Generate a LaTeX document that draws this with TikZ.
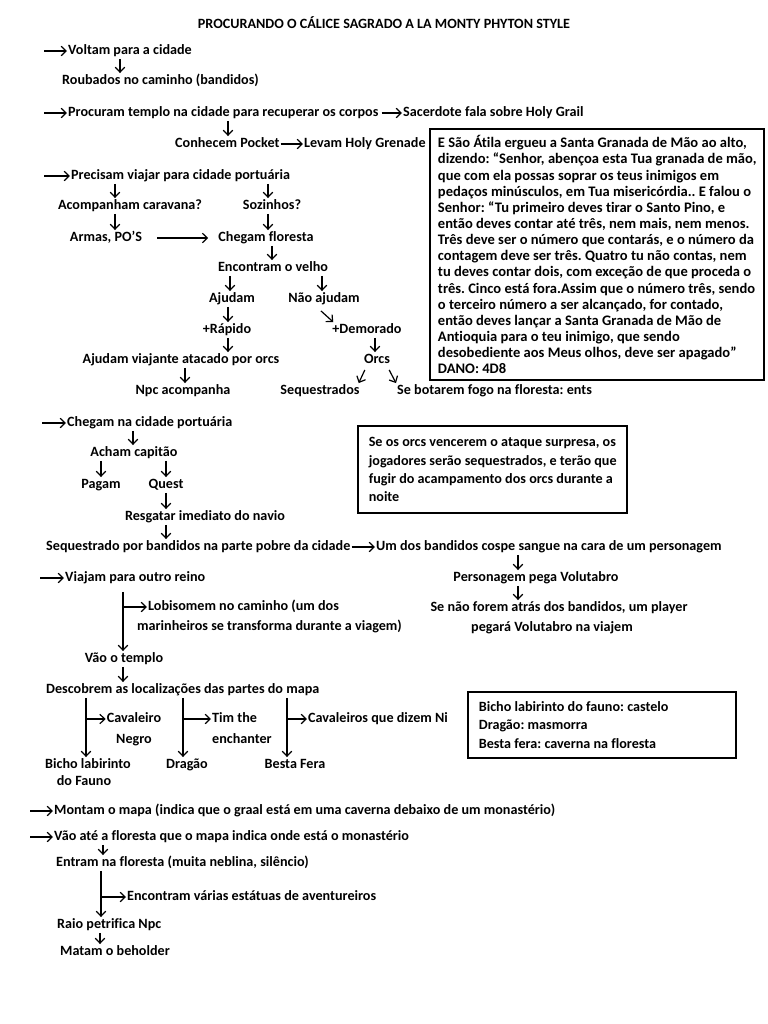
\documentclass[tikz,border=0pt]{standalone}
\usepackage{fontspec}
\setmainfont{Carlito}[Ligatures=NoCommon]
\frenchspacing
\usetikzlibrary{arrows.meta,calc}
\newcommand\tfont{\fontsize{14.2}{16}\selectfont\bfseries\frenchspacing}
\newcommand\bxfont{\fontsize{14.6}{16.2}\selectfont\bfseries\frenchspacing}
\newcommand\bxfontb{\fontsize{14.2}{18.4}\selectfont\bfseries\frenchspacing}
\tikzset{
  t/.style={font=\tfont, inner sep=1bp, text height=10bp, text depth=3.5bp},
  arr/.style={-{Straight Barb[length=5bp,width=9.5bp,line width=1.2bp]}, line width=1.2bp},
  textbox/.style={draw, line width=2.4bp, align=left, inner xsep=4bp, inner ysep=0bp},
}
\begin{document}
\begin{tikzpicture}[x=1bp,y=-1bp]
\fill[white] (0,0) rectangle (768,1024);
\useasboundingbox (0,0) rectangle (768,1024);

\node[t] (title) at (384,25) {PROCURANDO O CÁLICE SAGRADO A LA MONTY PHYTON STYLE};

% --- block 1
\coordinate (s1) at (44,51);
\node[t,anchor=west] (voltam) at (67,51) {Voltam para a cidade};
\node[t,anchor=west] (roubados) at (61,81) {Roubados no caminho (bandidos)};
\draw[arr] (s1) -- (voltam.west);
\draw[arr] (voltam.south -| 120,0) -- (roubados.north -| 120,0);

\coordinate (s2) at (44,113);
\node[t,anchor=west] (procuram) at (67,113) {Procuram templo na cidade para recuperar os corpos};
\node[t,anchor=west] (sacer) at (402,113) {Sacerdote fala sobre Holy Grail};
\node[t,anchor=west] (conhecem) at (174,144) {Conhecem Pocket};
\node[t,anchor=west] (levam) at (303,144) {Levam Holy Grenade};
\draw[arr] (s2) -- (procuram.west);
\draw[arr,shorten <=2bp] (procuram.east) -- (sacer.west);
\draw[arr] (procuram.south -| 228,0) -- (conhecem.north -| 228,0);
\draw[arr] (conhecem.east) -- (levam.west);

\node[textbox,font=\bxfont,anchor=north west,minimum width=334bp,minimum height=251bp] (box1) at (429,128)
{E São Átila ergueu a Santa Granada de Mão ao alto,\\
dizendo: “Senhor, abençoa esta Tua granada de mão,\\
que com ela possas soprar os teus inimigos em\\
pedaços minúsculos, em Tua misericórdia.. E falou o\\
Senhor: “Tu primeiro deves tirar o Santo Pino, e\\
então deves contar até três, nem mais, nem menos.\\
Três deve ser o número que contarás, e o número da\\
contagem deve ser três. Quatro tu não contas, nem\\
tu deves contar dois, com exceção de que proceda o\\
três. Cinco está fora.Assim que o número três, sendo\\
o terceiro número a ser alcançado, for contado,\\
então deves lançar a Santa Granada de Mão de\\
Antioquia para o teu inimigo, que sendo\\
desobediente aos Meus olhos, deve ser apagado”\\
DANO: 4D8};

% --- block 2
\coordinate (s3) at (44,176);
\node[t,anchor=west] (precisam) at (70,176) {Precisam viajar para cidade portuária};
\node[t] (acomp) at (130,206) {Acompanham caravana?};
\node[t] (sozinhos) at (272,206) {Sozinhos?};
\node[t] (armas) at (106,238) {Armas, PO’S};
\node[t] (chegamf) at (266,238) {Chegam floresta};
\node[t] (encontram) at (273,268) {Encontram o velho};
\node[t] (ajudam) at (232,299) {Ajudam};
\node[t] (naoaj) at (324,299) {Não ajudam};
\node[t] (rapido) at (227,330) {+Rápido};
\node[t] (demorado) at (367,330) {+Demorado};
\node[t] (ajviaj) at (181,360) {Ajudam viajante atacado por orcs};
\node[t] (orcs) at (377,360) {Orcs};
\node[t] (npc) at (183,391) {Npc acompanha};
\node[t] (seq) at (320,391) {Sequestrados};
\node[t,anchor=west] (ents) at (396,391) {Se botarem fogo na floresta: ents};
\draw[arr] (s3) -- (precisam.west);
\draw[arr] (precisam.south -| 115,0) -- (acomp.north -| 115,0);
\draw[arr] (precisam.south -| 268,0) -- (sozinhos.north -| 268,0);
\draw[arr] (acomp.south -| 115,0) -- (armas.north -| 115,0);
\draw[arr,shorten <=14bp,shorten >=9bp] (armas.east) -- (chegamf.west);
\draw[arr] (sozinhos.south -| 268,0) -- (chegamf.north -| 268,0);
\draw[arr] (chegamf.south -| 272,0) -- (encontram.north -| 272,0);
\draw[arr] (encontram.south -| 230,0) -- (ajudam.north -| 230,0);
\draw[arr] (encontram.south -| 322,0) -- (naoaj.north -| 322,0);
\draw[arr] (ajudam.south -| 228,0) -- (rapido.north -| 228,0);
\draw[arr] ($(naoaj.south -| 321,0)+(0,4)$) -- ($(demorado.north west)+(2,0)$);
\draw[arr] (rapido.south -| 228,0) -- (ajviaj.north -| 228,0);
\draw[arr] (demorado.south -| 375,0) -- (orcs.north -| 375,0);
\draw[arr] (ajviaj.south -| 185,0) -- (npc.north -| 185,0);
\draw[arr] ($(orcs.south west)+(2,2)$) -- ($(seq.north east)+(-2,0)$);
\draw[arr] ($(orcs.south east)+(-2,2)$) -- ($(ents.north west)+(0,0)$);

% --- block 3
\coordinate (s4) at (42,423);
\node[t,anchor=west] (chegamc) at (66,423) {Chegam na cidade portuária};
\node[t] (acham) at (134,453) {Acham capitão};
\node[t] (pagam) at (101,485) {Pagam};
\node[t] (quest) at (166,485) {Quest};
\node[t] (resgatar) at (205,517) {Resgatar imediato do navio};
\node[t,anchor=west] (sequestrado) at (45,547) {Sequestrado por bandidos na parte pobre da cidade};
\node[t,anchor=west] (umdos) at (375,547) {Um dos bandidos cospe sangue na cara de um personagem};
\node[t] (personagem) at (536,578) {Personagem pega Volutabro};
\node[t] (senao) at (559,608) {Se não forem atrás dos bandidos, um player};
\node[t] (pegara) at (552,628) {pegará Volutabro na viajem};
\draw[arr] (s4) -- (chegamc.west);
\draw[arr] (chegamc.south -| 133,0) -- (acham.north -| 133,0);
\draw[arr] (acham.south -| 101,0) -- (pagam.north -| 101,0);
\draw[arr] (acham.south -| 166,0) -- (quest.north -| 166,0);
\draw[arr] (quest.south -| 166,0) -- (resgatar.north -| 166,0);
\draw[arr] (resgatar.south -| 166,0) -- (sequestrado.north -| 166,0);
\draw[arr] (sequestrado.east) -- (umdos.west);
\draw[arr] (umdos.south -| 518,0) -- (personagem.north -| 518,0);
\draw[arr] (personagem.south -| 518,0) -- (senao.north -| 518,0);

\node[textbox,font=\bxfontb,anchor=north west,minimum width=269bp,minimum height=87bp,inner xsep=8bp] (box2) at (357,425)
{Se os orcs vencerem o ataque surpresa, os\\
jogadores serão sequestrados, e terão que\\
fugir do acampamento dos orcs durante a\\
noite};

% --- block 4
\coordinate (s5) at (40,578);
\node[t,anchor=west] (viajam) at (64,578) {Viajam para outro reino};
\node[t,anchor=west] (lobi1) at (147,607) {Lobisomem no caminho (um dos};
\node[t,anchor=west] (lobi2) at (136,627) {marinheiros se transforma durante a viagem)};
\node[t] (vao) at (124,659) {Vão o templo};
\node[t,anchor=west] (desc) at (45,690) {Descobrem as localizações das partes do mapa};
\coordinate (b1) at (123,607);
\draw[arr] (s5) -- (viajam.west);
\draw[arr] ($(viajam.south -| 123,0)+(0,6)$) -- (vao.north -| 123,0);
\draw[arr] (b1) -- (lobi1.west);
\draw[arr] (vao.south -| 123,0) -- (desc.north -| 123,0);

\node[t] (cav1) at (134,719) {Cavaleiro};
\node[t] (cav2) at (134,740) {Negro};
\node[t,anchor=west] (tim1) at (211,719) {Tim the};
\node[t,anchor=west] (tim2) at (211,740) {enchanter};
\node[t,anchor=west] (cavni) at (307,719) {Cavaleiros que dizem Ni};
\node[t] (bicho1) at (88,765) {Bicho labirinto};
\node[t] (bicho2) at (84,782) {do Fauno};
\node[t] (dragao) at (187,765) {Dragão};
\node[t] (besta) at (295,765) {Besta Fera};
\coordinate (b2) at (86,719);
\coordinate (b3) at (183,719);
\coordinate (b4) at (287,719);
\draw[arr] (desc.south -| 86,0) -- (bicho1.north -| 86,0);
\draw[arr] (desc.south -| 183,0) -- (dragao.north -| 183,0);
\draw[arr] (desc.south -| 287,0) -- (besta.north -| 287,0);
\draw[arr] (b2) -- (cav1.west);
\draw[arr] (b3) -- (tim1.west);
\draw[arr] (b4) -- (cavni.west);

\node[textbox,font=\bxfontb,line width=1.8bp,anchor=north west,minimum width=268bp,minimum height=66bp,inner xsep=11bp,text width=246bp,align=flush left] (box3) at (467,691)
{Bicho labirinto do fauno: castelo\\
Dragão: masmorra\\
Besta fera: caverna na floresta};

% --- block 5
\coordinate (s6) at (30,811);
\node[t,anchor=west] (montam) at (53,811) {Montam o mapa (indica que o graal está em uma caverna debaixo de um monastério)};
\coordinate (s7) at (30,837);
\node[t,anchor=west] (vaoate) at (53,837) {Vão até a floresta que o mapa indica onde está o monastério};
\node[t,anchor=west] (entram) at (55,863) {Entram na floresta (muita neblina, silêncio)};
\node[t,anchor=west] (encvar) at (126,897) {Encontram várias estátuas de aventureiros};
\node[t,anchor=west] (raio) at (56,925) {Raio petrifica Npc};
\node[t,anchor=west] (matam) at (59,952) {Matam o beholder};
\coordinate (b5) at (101,897);
\draw[arr] (s6) -- (montam.west);
\draw[arr] (s7) -- (vaoate.west);
\draw[arr] (vaoate.south -| 103,0) -- (entram.north -| 103,0);
\draw[arr] (entram.south -| 101,0) -- (raio.north -| 101,0);
\draw[arr] (b5) -- (encvar.west);
\draw[arr] (raio.south -| 100,0) -- (matam.north -| 100,0);
\end{tikzpicture}
\end{document}
